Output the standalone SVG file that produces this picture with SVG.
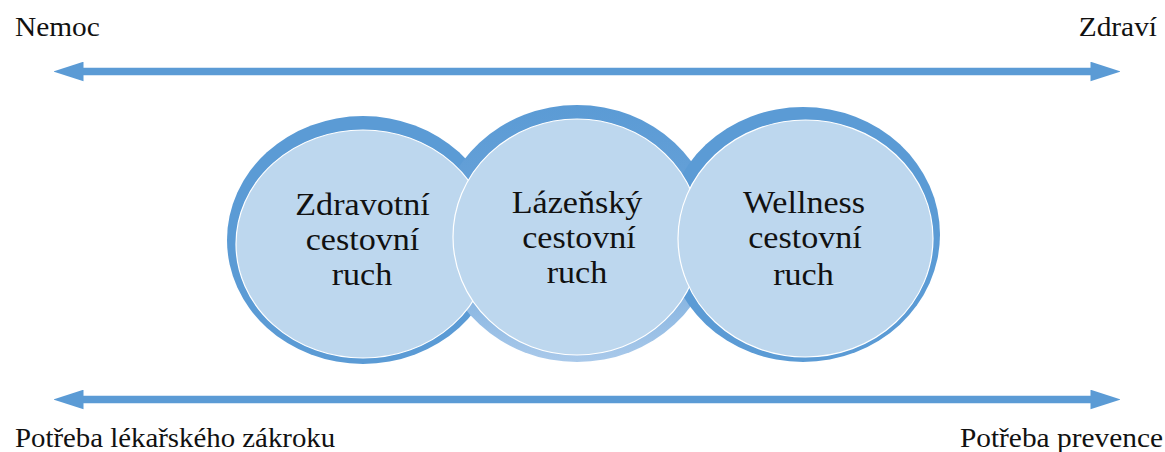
<svg xmlns="http://www.w3.org/2000/svg" width="1165" height="452" viewBox="0 0 1165 452">
  <defs>
    <style>
      .lbl { font-family: "Liberation Serif", "Times New Roman", serif; font-size: 28px; fill: #111; }
      .ntx { font-family: "Liberation Serif", "Times New Roman", serif; font-size: 31px; fill: #111; text-anchor: middle; }
      .outer { fill: #5b9bd5; }
      .inner { fill: #bdd7ee; stroke: #ffffff; stroke-width: 1.2; }
      .shaft { stroke: #5b9bd5; stroke-width: 7.5; fill: none; marker-start: url(#ah); marker-end: url(#ah); }
    </style>
    <marker id="ah" markerUnits="userSpaceOnUse" markerWidth="30" markerHeight="20" viewBox="0 0 29 19" refX="0.5" refY="9.5" orient="auto-start-reverse">
      <path d="M0,0 L29,9.5 L0,19 Z" fill="#5b9bd5"/>
    </marker>
    <linearGradient id="g2" x1="0" y1="0" x2="0" y2="1">
      <stop offset="0" stop-color="#5b9bd5"/>
      <stop offset="0.5" stop-color="#6aa3d9"/>
      <stop offset="1" stop-color="#a9c9ea"/>
    </linearGradient>
  </defs>

  <rect width="1165" height="452" fill="#ffffff"/>

  <g id="connectors">
    <line class="shaft" x1="83" y1="71.5" x2="1091" y2="71.5"/>
    <line class="shaft" x1="83" y1="399.5" x2="1091" y2="399.5"/>
  </g>

  <g id="label-nemoc"><text class="lbl" transform="translate(15,36) scale(1.05,1)">Nemoc</text></g>
  <g id="label-zdravi"><text class="lbl" text-anchor="end" transform="translate(1157,36) scale(1.05,1)">Zdraví</text></g>
  <g id="label-zakrok"><text class="lbl" transform="translate(15,447) scale(1.03,1)">Potřeba lékařského zákroku</text></g>
  <g id="label-prevence"><text class="lbl" text-anchor="end" transform="translate(1163,447) scale(1.05,1)">Potřeba prevence</text></g>

  <g id="node-rings">
    <ellipse id="ring-zdravotni" class="outer" cx="363" cy="240" rx="136" ry="124"/>
    <ellipse id="ring-lazensky" cx="577" cy="233.5" rx="138" ry="128.5" fill="url(#g2)"/>
    <ellipse id="ring-wellness" class="outer" cx="803" cy="234.5" rx="137" ry="127.5"/>
  </g>

  <g id="node-zdravotni">
    <ellipse class="inner" cx="363" cy="244" rx="127" ry="114"/>
    <text class="ntx" transform="translate(362.5,215) scale(1.1,1)">Zdravotní</text>
    <text class="ntx" transform="translate(362.5,250) scale(1.1,1)">cestovní</text>
    <text class="ntx" transform="translate(362,285) scale(1.1,1)">ruch</text>
  </g>
  <g id="node-lazensky">
    <ellipse class="inner" cx="577" cy="237" rx="124" ry="118"/>
    <text class="ntx" transform="translate(577,213) scale(1.1,1)">Lázeňský</text>
    <text class="ntx" transform="translate(579,248) scale(1.1,1)">cestovní</text>
    <text class="ntx" transform="translate(577,283) scale(1.1,1)">ruch</text>
  </g>
  <g id="node-wellness">
    <ellipse class="inner" cx="805.5" cy="238.5" rx="127.5" ry="118.5"/>
    <text class="ntx" transform="translate(804,213) scale(1.1,1)">Wellness</text>
    <text class="ntx" transform="translate(805,248) scale(1.1,1)">cestovní</text>
    <text class="ntx" transform="translate(803.5,285) scale(1.1,1)">ruch</text>
  </g>
</svg>
